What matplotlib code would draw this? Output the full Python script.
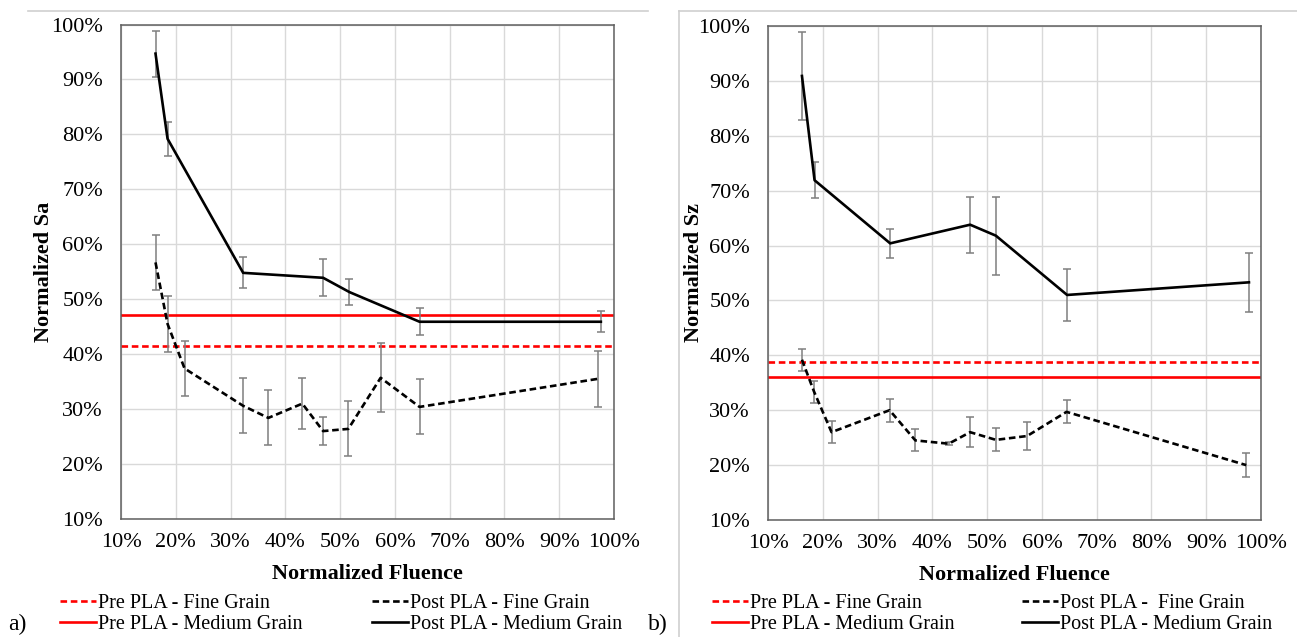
import matplotlib
matplotlib.use('Agg')
import matplotlib.pyplot as plt
from matplotlib.lines import Line2D
from matplotlib.ticker import FuncFormatter

W, H = 1297, 637
plt.rcParams['font.family'] = ['Liberation Serif', 'DejaVu Serif']

# ---------------- data (values in %) ----------------
# Panel a) Normalized Sa
sa_fluence_medium = [16.3, 18.5, 32.3, 46.9, 51.7, 64.5, 97.6]
sa_medium = [94.7, 79.2, 54.8, 53.9, 51.3, 45.9, 45.9]
sa_medium_err = [4.2, 3.1, 2.8, 3.4, 2.3, 2.5, 1.9]

sa_fluence_fine = [16.3, 18.5, 21.6, 32.3, 36.9, 43.1, 46.9, 51.5, 57.4, 64.5, 97.0]
sa_fine = [56.7, 45.5, 37.4, 30.6, 28.4, 31.0, 26.0, 26.4, 35.7, 30.4, 35.5]
sa_fine_err = [5.0, 5.1, 5.0, 5.0, 5.0, 4.7, 2.6, 5.0, 6.3, 5.0, 5.1]

sa_pre_fine = 41.5
sa_pre_medium = 47.2

# Panel b) Normalized Sz
sz_fluence_medium = [16.2, 18.5, 32.3, 46.9, 51.6, 64.6, 97.8]
sz_medium = [90.9, 71.9, 60.4, 63.8, 61.8, 51.0, 53.3]
sz_medium_err = [8.0, 3.3, 2.6, 5.1, 7.1, 4.8, 5.4]

sz_fluence_fine = [16.2, 18.4, 21.6, 32.2, 36.9, 43.0, 46.9, 51.6, 57.3, 64.5, 97.3]
sz_fine = [39.2, 33.4, 26.0, 30.0, 24.5, 23.9, 26.0, 24.6, 25.3, 29.7, 20.0]
sz_fine_err = [2.0, 2.0, 2.0, 2.1, 2.0, 0.3, 2.7, 2.1, 2.5, 2.1, 2.2]

sz_pre_fine = 38.8
sz_pre_medium = 36.0

ticks = [10, 20, 30, 40, 50, 60, 70, 80, 90, 100]

legend_pre = ['Pre PLA - Fine Grain', 'Pre PLA - Medium Grain']
legend_post_a = ['Post PLA - Fine Grain', 'Post PLA - Medium Grain']
legend_post_b = ['Post PLA -  Fine Grain', 'Post PLA - Medium Grain']

# ---------------- styling ----------------
RED = '#ff0000'
DASH = (0, (2.5, 1.4))
LW = 1.9
GRID = '#d9d9d9'
SPINE = '#5f5f5f'
ERR = '#7f7f7f'

fig = plt.figure(figsize=(W / 100, H / 100), dpi=100)


def rect(l, t, r, b):
    return [l / W, 1 - b / H, (r - l) / W, (b - t) / H]


def panel(r, ylabel, ylab_x, xf, yf, ef, xm, ym, em, pre_f, pre_m):
    ax = fig.add_axes(r)
    ax.set_xlim(10, 100)
    ax.set_ylim(10, 100)
    ax.set_xticks(ticks)
    ax.set_yticks(ticks)
    fmt = FuncFormatter(lambda v, p: f'{v:.0f}%')
    ax.xaxis.set_major_formatter(fmt)
    ax.yaxis.set_major_formatter(fmt)
    ax.grid(True, color=GRID, lw=1.0, zorder=0)
    ax.set_axisbelow(True)
    for s in ax.spines.values():
        s.set_color(SPINE)
        s.set_linewidth(1.1)
    ax.tick_params(axis='both', length=0, labelsize=16, colors='#000000')
    ax.tick_params(axis='x', pad=10)
    ax.tick_params(axis='y', pad=13)

    ax.axhline(pre_f, color=RED, lw=LW, ls=DASH, zorder=2)
    ax.axhline(pre_m, color=RED, lw=LW, zorder=2)

    ax.errorbar(xf, yf, yerr=ef, fmt='none', ecolor=ERR, elinewidth=1.1,
                capsize=2.8, capthick=1.1, zorder=3)
    ax.errorbar(xm, ym, yerr=em, fmt='none', ecolor=ERR, elinewidth=1.1,
                capsize=2.8, capthick=1.1, zorder=3)
    ax.plot(xf, yf, color='black', lw=LW, ls=DASH, zorder=4)
    ax.plot(xm, ym, color='black', lw=LW, zorder=4)

    ax.set_xlabel('Normalized Fluence', fontsize=16, fontweight='bold', va='center')
    ax.xaxis.set_label_coords(0.5, -0.111)
    ax.set_ylabel(ylabel, fontsize=16, fontweight='bold', va='center')
    ax.yaxis.set_label_coords(ylab_x, 0.5)
    return ax


panel(rect(121, 24.5, 614, 519), 'Normalized Sa', -0.157,
      sa_fluence_fine, sa_fine, sa_fine_err,
      sa_fluence_medium, sa_medium, sa_medium_err, sa_pre_fine, sa_pre_medium)
panel(rect(768, 26, 1261, 520), 'Normalized Sz', -0.150,
      sz_fluence_fine, sz_fine, sz_fine_err,
      sz_fluence_medium, sz_medium, sz_medium_err, sz_pre_fine, sz_pre_medium)

# ---------------- legends ----------------
def make_legend(x_px, labels, color):
    handles = [Line2D([], [], color=color, lw=LW, ls=DASH),
               Line2D([], [], color=color, lw=LW)]
    lg = fig.legend(handles, labels, loc='upper left',
                    bbox_to_anchor=(x_px / W, 1 - 594 / H),
                    frameon=False, borderpad=0, borderaxespad=0,
                    handlelength=1.8, handletextpad=0.08, labelspacing=0.1,
                    prop={'family': 'Liberation Serif', 'size': 14.5})
    return lg

make_legend(60, legend_pre, RED)
make_legend(372, legend_post_a, 'black')
make_legend(712, legend_pre, RED)
make_legend(1022, legend_post_b, 'black')

fig.text(8 / W, 1 - 624 / H, 'a)', fontsize=17, ha='left', va='center')
fig.text(648 / W, 1 - 624 / H, 'b)', fontsize=17, ha='left', va='center')

# ---------------- frame decorations ----------------
FRAME = '#cfcfcf'
fig.add_artist(Line2D([28 / W, 648 / W], [1 - 11 / H, 1 - 11 / H],
                      transform=fig.transFigure, color=FRAME, lw=1.2))
fig.add_artist(Line2D([679 / W, 1.0], [1 - 11 / H, 1 - 11 / H],
                      transform=fig.transFigure, color=FRAME, lw=1.2))
fig.add_artist(Line2D([679 / W, 679 / W], [1 - 11 / H, 0.0],
                      transform=fig.transFigure, color=FRAME, lw=1.2))

fig.savefig('out.png', dpi=100, facecolor='white')
